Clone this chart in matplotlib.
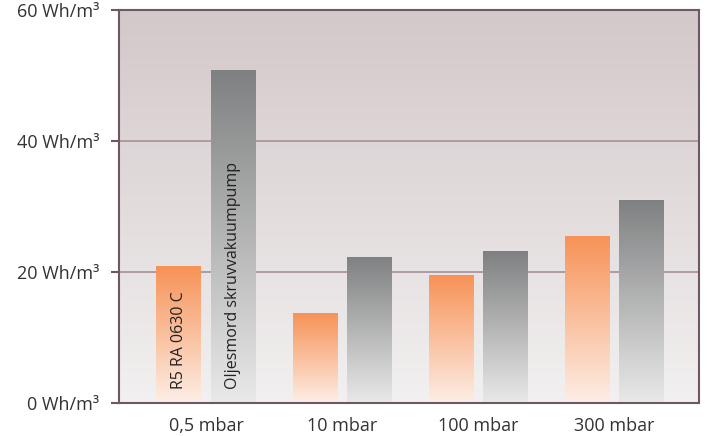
import matplotlib.pyplot as plt
import numpy as np
from matplotlib.colors import LinearSegmentedColormap

plt.rcParams['font.family'] = ['Open Sans', 'DejaVu Sans']

categories = ['0,5 mbar', '10 mbar', '100 mbar', '300 mbar']
r5_values = [20.9, 13.7, 19.5, 25.5]
oil_values = [50.8, 22.3, 23.2, 31.0]
series_names = ['R5 RA 0630 C', 'Oljesmord skruvvakuumpump']
yticks = [0, 20, 40, 60]
ytick_labels = ['0 Wh/m³', '20 Wh/m³', '40 Wh/m³', '60 Wh/m³']

fig = plt.figure(figsize=(7.07, 4.36), dpi=100)
ax = fig.add_axes([119/707, 33/436, 580/707, 393/436])

x = np.arange(len(categories))
xlim = (-0.64, 3.62)
ax.set_xlim(*xlim)
ax.set_ylim(0, 60)

# background gradient
bg = LinearSegmentedColormap.from_list('bg', ['#f2f0f0', '#d3c8ca'])
grad = np.linspace(0, 1, 256).reshape(-1, 1)
ax.imshow(grad, cmap=bg, aspect='auto', origin='lower',
          extent=[xlim[0], xlim[1], 0, 60], zorder=0)

for y in [20, 40]:
    ax.axhline(y, color='#ab959c', lw=1.3, zorder=1)

orange = LinearSegmentedColormap.from_list('or', ['#fdeee6', '#f79257'])
gray = LinearSegmentedColormap.from_list('gr', ['#e9e9e9', '#7f8081'])

w = 0.33
off = 0.2
for vals, dx, cmap in [(r5_values, -off, orange), (oil_values, off, gray)]:
    bars = ax.bar(x + dx, vals, width=w, color='none', zorder=2)
    for b in bars:
        x0, y1 = b.get_x(), b.get_height()
        im = ax.imshow(grad, cmap=cmap, aspect='auto', origin='lower',
                       extent=[x0, x0 + w, 0, y1], zorder=2)
        im.set_clip_path(b)

ax.text(x[0] - off, 2.2, series_names[0], rotation=90, ha='center', va='bottom',
        fontsize=11.5, color='#222222', zorder=3)
ax.text(x[0] + off, 2.2, series_names[1], rotation=90, ha='center', va='bottom',
        fontsize=11.5, color='#222222', zorder=3)

ax.set_xticks(x)
ax.set_xticklabels(categories, fontsize=13, color='#333333')
ax.set_yticks(yticks)
ax.set_yticklabels(ytick_labels, fontsize=13, color='#333333')
ax.tick_params(axis='x', length=0, pad=10)
ax.tick_params(axis='y', length=6, width=1.5, color='#6f5865', pad=8)

for s in ax.spines.values():
    s.set_color('#6f5865')
    s.set_linewidth(1.5)

fig.savefig('out.png', dpi=100)
